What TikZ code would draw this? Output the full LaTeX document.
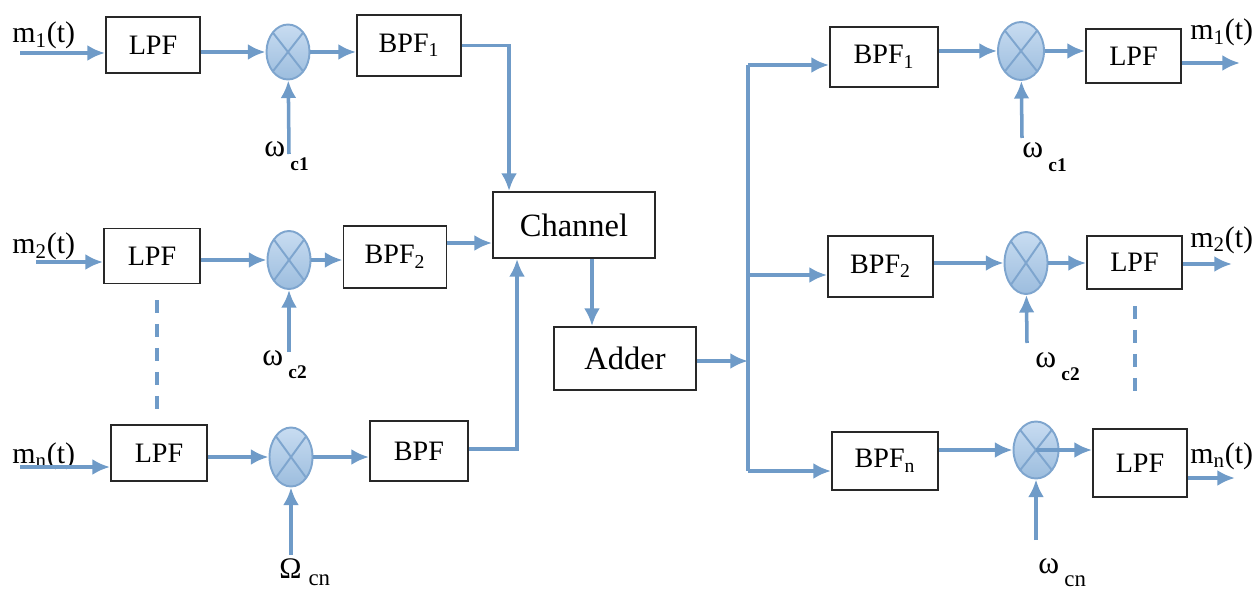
\documentclass[tikz,border=0pt]{standalone}
\usepackage{fontspec}
\setmainfont{Liberation Serif}
\usepackage{tikz}
\usetikzlibrary{arrows.meta,shapes.geometric}
\definecolor{sigblue}{RGB}{111,155,200}
\definecolor{mixtop}{RGB}{200,220,241}
\definecolor{mixbot}{RGB}{156,189,222}
\definecolor{mixedge}{RGB}{126,165,206}
\definecolor{boxgray}{RGB}{40,40,40}
\newcommand\csub[2][-7.5pt]{\raisebox{#1}{\fontsize{11}{13}\selectfont #2}}

\begin{document}
\begin{tikzpicture}[>={Latex[length=10pt,width=9pt]},x=0.02cm,y=-0.02cm]
		\tikzset{
			blk/.style 2 args={draw=boxgray,line width=1.1pt,inner sep=0pt,
				minimum width=#1cm,minimum height=#2cm,font=\fontsize{16}{18}\selectfont},
			mixer/.style 2 args={ellipse,draw=mixedge,line width=1.1pt,inner sep=0pt,
				top color=mixtop,bottom color=mixbot,minimum width=#1cm,minimum height=#2cm,
				path picture={\draw[mixedge,line width=1.1pt]
					(path picture bounding box.north west) -- (path picture bounding box.south east)
					(path picture bounding box.north east) -- (path picture bounding box.south west);}},
			sig/.style={draw=sigblue,line width=2pt},
			lab/.style={inner sep=0pt,anchor=base west,font=\fontsize{17}{19}\selectfont},
			carrier/.style={inner sep=0pt,anchor=base west,font=\fontsize{18}{20}\selectfont}
		}
		\useasboundingbox (0,0) rectangle (1260,591);
		% transmitter
		\node[blk={1.88}{1.12}] (lpfA) at (153,45) {LPF};
		\node[mixer={0.86}{1.1}] (mixA) at (288,52) {};
		\node[blk={2.08}{1.22}] (bpfA) at (409,45.5) {BPF\textsubscript{1}};
		\node[blk={1.92}{1.1}] (lpfB) at (152,256) {LPF};
		\node[mixer={0.86}{1.16}] (mixB) at (289,260) {};
		\node[blk={2.06}{1.24}] (bpfB) at (395,257) {BPF\textsubscript{2}};
		\node[blk={1.92}{1.12}] (lpfN) at (159,453) {LPF};
		\node[mixer={0.86}{1.18}] (mixN) at (291,457) {};
		\node[blk={1.96}{1.2}] (bpfN) at (419,451) {BPF};
		\node[blk={3.24}{1.32},font=\fontsize{18.5}{21}\selectfont] (chan) at (574,225) {Channel};
		\node[blk={2.84}{1.26},font=\fontsize{18.5}{21}\selectfont] (adder) at (625,358.5) {Adder};
		% receiver
		\node[blk={2.16}{1.2}] (bpfD) at (884,57) {BPF\textsubscript{1}};
		\node[mixer={0.92}{1.16}] (mixD) at (1021,51) {};
		\node[blk={1.9}{1.08}] (lpfD) at (1133.5,56) {LPF};
		\node[blk={2.1}{1.22}] (bpfE) at (880.5,266.5) {BPF\textsubscript{2}};
		\node[mixer={0.86}{1.24}] (mixE) at (1026,263) {};
		\node[blk={1.9}{1.06}] (lpfE) at (1134.5,262.5) {LPF};
		\node[blk={2.12}{1.16}] (bpfF) at (885,461) {BPF\textsubscript{n}};
		\node[mixer={0.9}{1.14}] (mixF) at (1036,450) {};
		\node[blk={1.88}{1.36}] (lpfF) at (1140,463) {LPF};
		% free ends
		\coordinate (inA) at (20,53);
		\coordinate (inB) at (36,262);
		\coordinate (inN) at (20,467);
		\coordinate (wA) at (289,154);
		\coordinate (wB) at (289,352);
		\coordinate (wN) at (291,555);
		\coordinate (bD) at (748,65);
		\coordinate (bM) at (748,361);
		\coordinate (bE) at (748,275);
		\coordinate (bF) at (748,471);
		\coordinate (wD) at (1022,138);
		\coordinate (wE) at (1027,343);
		\coordinate (wF) at (1036,540);
		\coordinate (outD) at (1240,63);
		\coordinate (outE) at (1232,264);
		\coordinate (outF) at (1235,478);
		% labels
		\node[lab] (lblA) at (12,43) {m\textsubscript{1}(t)};
		\node[lab] (lblB) at (12,254) {m\textsubscript{2}(t)};
		\node[lab] (lblN) at (12,463) {m\textsubscript{n}(t)};
		\node[lab] (lblD) at (1190,40) {m\textsubscript{1}(t)};
		\node[lab] (lblE) at (1190,247) {m\textsubscript{2}(t)};
		\node[lab] (lblF) at (1190,463) {m\textsubscript{n}(t)};
		\node[carrier] (wlA) at (264,157) {ω\hspace{3pt}\csub{\textbf{c1}}};
		\node[carrier] (wlB) at (262,365) {ω\hspace{3pt}\csub{\textbf{c2}}};
		\node[carrier,font=\fontsize{17}{19}\selectfont] (wlN) at (279,578)
			{Ω\hspace{4pt}\csub[-4pt]{\fontsize{13}{15}\selectfont cn}};
		\node[carrier] (wlD) at (1022,158) {ω\hspace{3pt}\csub{\textbf{c1}}};
		\node[carrier] (wlE) at (1035,367) {ω\hspace{3pt}\csub{\textbf{c2}}};
		\node[carrier] (wlF) at (1038,573) {ω\hspace{3pt}\csub{\fontsize{13}{15}\selectfont cn}};
		% transmitter connectors
		\draw[sig,->] (inA) -- (inA -| lpfA.west);
		\draw[sig,->] (lpfA.east |- mixA) -- (mixA);
		\draw[sig,->] (mixA) -- (mixA -| bpfA.west);
		\draw[sig,->] (wA) -- (mixA);
		\draw[sig,->] (bpfA.east) -| ([xshift=0.34cm]chan.north west);
		\draw[sig,->] (inB) -- (inB -| lpfB.west);
		\draw[sig,->] (lpfB.east |- mixB) -- (mixB);
		\draw[sig,->] (mixB) -- (mixB -| bpfB.west);
		\draw[sig,->] (wB) -- (mixB);
		\draw[sig,->] ([yshift=0.28cm]bpfB.east) -- ([yshift=0.28cm]bpfB.east -| chan.west);
		\draw[sig,->] (inN) -- (inN -| lpfN.west);
		\draw[sig,->] (lpfN.east |- mixN) -- (mixN);
		\draw[sig,->] (mixN) -- (mixN -| bpfN.west);
		\draw[sig,->] (wN) -- (mixN);
		\draw[sig,->] ([yshift=0.04cm]bpfN.east) -| ([xshift=0.5cm]chan.south west);
		\draw[sig,dash pattern=on 0.26cm off 0.22cm] (157,300) -- (157,410);
		% channel, adder, bus
		\draw[sig,->] ([xshift=0.36cm]chan.south) -- ([xshift=0.36cm]chan.south |- adder.north);
		\draw[sig,->] (adder.east |- bM) -- (bM);
		\draw[sig] (bD) -- (bF);
		\draw[sig,->] (bD) -- (bD -| bpfD.west);
		\draw[sig,->] (bE) -- (bE -| bpfE.west);
		\draw[sig,->] (bF) -- (bF -| bpfF.west);
		% receiver connectors
		\draw[sig,->] (bpfD.east |- mixD) -- (mixD);
		\draw[sig,->] (mixD) -- (mixD -| lpfD.west);
		\draw[sig,->] (wD) -- (mixD);
		\draw[sig,->] (lpfD.east |- outD) -- (outD);
		\draw[sig,->] (bpfE.east |- mixE) -- (mixE);
		\draw[sig,->] (mixE) -- (mixE -| lpfE.west);
		\draw[sig,->] (wE) -- (mixE);
		\draw[sig,->] (lpfE.east |- outE) -- (outE);
		\draw[sig,->] (bpfF.east |- mixF) -- (mixF);
		\draw[sig,->] (mixF.center) -- (mixF -| lpfF.west);
		\draw[sig,->] (wF) -- (mixF);
		\draw[sig,->] (lpfF.east |- outF) -- (outF);
		\draw[sig,dash pattern=on 0.26cm off 0.22cm] (1135,306) -- (1135,400);
\end{tikzpicture}
\end{document}
